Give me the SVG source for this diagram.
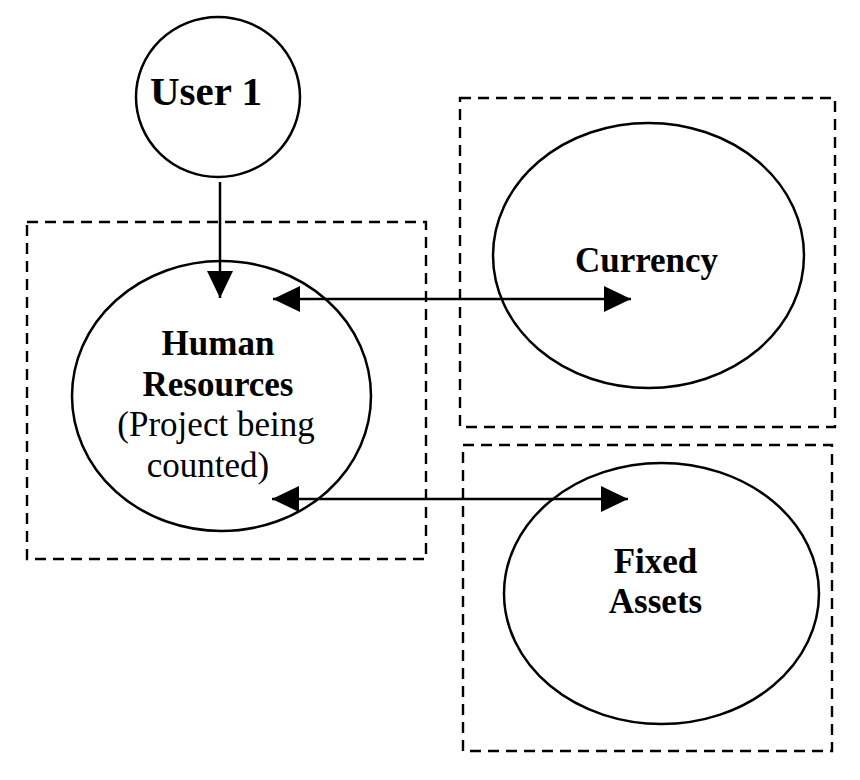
<svg xmlns="http://www.w3.org/2000/svg" width="860" height="780" viewBox="0 0 860 780">
<style>
.box{fill:none;stroke:#000;stroke-width:2.4;stroke-dasharray:11 7}
.node{fill:#fff;stroke:#000;stroke-width:2.5}
.edge{stroke:#000;stroke-width:2.5;fill:none}
.b{font-family:"Liberation Serif","Times New Roman",serif;font-weight:bold;fill:#000;text-anchor:middle}
.r{font-family:"Liberation Serif","Times New Roman",serif;fill:#000;text-anchor:middle}
</style>
<defs>
<marker id="ah" viewBox="0 0 27 26" refX="27" refY="13" markerWidth="27" markerHeight="26" markerUnits="userSpaceOnUse" orient="auto-start-reverse">
<path d="M0,0 L27,13 L0,26 Z" fill="#000"/>
</marker>
</defs>
<rect width="860" height="780" fill="#fff"/>
<g id="box-hr"><rect class="box" x="27" y="222" width="399" height="337"/></g>
<g id="box-currency"><rect class="box" x="460" y="98" width="375" height="329"/></g>
<g id="box-fixed"><rect class="box" x="463" y="445" width="369" height="306"/></g>
<g id="user1">
<ellipse class="node" cx="218" cy="97" rx="82" ry="80"/>
<text class="b" x="206" y="105" font-size="41">User 1</text>
</g>
<g id="hr">
<ellipse class="node" cx="221.5" cy="396" rx="149.5" ry="135"/>
<text class="b" x="218" y="355" font-size="35">Human</text>
<text class="b" x="218" y="396" font-size="35">Resources</text>
<text class="r" x="216" y="436" font-size="35">(Project being</text>
<text class="r" x="208" y="477" font-size="35">counted)</text>
</g>
<g id="currency">
<ellipse class="node" cx="648.5" cy="255.5" rx="155.5" ry="132.5"/>
<text class="b" x="646.5" y="272" font-size="35">Currency</text>
</g>
<g id="fixed">
<ellipse class="node" cx="661.5" cy="593.5" rx="157.5" ry="130.5"/>
<text class="b" x="655.5" y="573" font-size="35">Fixed</text>
<text class="b" x="655.5" y="613" font-size="35">Assets</text>
</g>
<g id="connectors">
<line class="edge" x1="220" y1="182" x2="220" y2="298" marker-end="url(#ah)"/>
<line class="edge" x1="273" y1="299" x2="631" y2="299" marker-start="url(#ah)" marker-end="url(#ah)"/>
<line class="edge" x1="272" y1="499" x2="628" y2="499" marker-start="url(#ah)" marker-end="url(#ah)"/>
</g>
</svg>
